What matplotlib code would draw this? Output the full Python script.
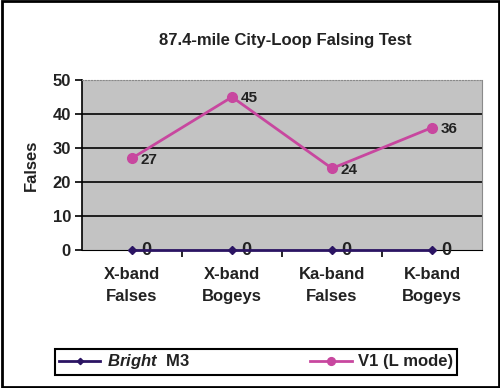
import matplotlib.pyplot as plt
from matplotlib.patches import Rectangle

plt.rcParams['font.family'] = ['Liberation Sans', 'DejaVu Sans']
plt.rcParams['mathtext.fontset'] = 'custom'
plt.rcParams['mathtext.bfit'] = 'Liberation Sans:bold:italic'

categories = ['X-band\nFalses', 'X-band\nBogeys', 'Ka-band\nFalses', 'K-band\nBogeys']
m3 = [0, 0, 0, 0]
v1 = [27, 45, 24, 36]
yticks = [0, 10, 20, 30, 40, 50]

txt = '#222222'
magenta = '#c8479f'
navy = '#2b1463'

fig = plt.figure(figsize=(5, 3.88), dpi=100)
ax = fig.add_axes([82/500, 1-250/388, 400/500, 170/388])
ax.set_facecolor('#c3c3c3')

x = list(range(len(categories)))
ax.plot(x, v1, '-o', color=magenta, lw=2, ms=7, label='V1 (L mode)', zorder=4)
ax.plot(x, m3, '-D', color=navy, lw=2, ms=4, label=r'$\mathbfit{Bright}$  M3', zorder=5, clip_on=False)

for i, v in enumerate(v1):
    ax.annotate(str(v), (i, v), xytext=(6, -1), textcoords='offset points',
                ha='left', va='center', fontsize=11, fontweight='bold', color=txt)
for i, v in enumerate(m3):
    ax.annotate(str(v), (i, v), xytext=(7, 0), textcoords='offset points',
                ha='left', va='center', fontsize=13, fontweight='bold', color=txt,
                annotation_clip=False)

ax.set_xlim(-0.5, 3.5)
ax.set_ylim(0, 50)
ax.set_yticks(yticks)
ax.set_yticklabels([str(t) for t in yticks], fontsize=12, fontweight='bold', color=txt)
ax.set_xticks(x)
ax.set_xticklabels(categories, fontsize=12, fontweight='bold', color=txt, linespacing=1.6)
ax.tick_params(axis='x', length=0, pad=12)
ax.set_xticks([0.5, 1.5, 2.5], minor=True)
ax.tick_params(axis='x', which='minor', length=5, width=1.2, direction='out')
ax.tick_params(axis='y', length=5, width=1.2, direction='out', pad=3)

for t in [10, 20, 30, 40]:
    ax.axhline(t, color='#111111', lw=1.3, zorder=1)

ax.spines['left'].set_color('black')
ax.spines['left'].set_linewidth(1.2)
ax.spines['bottom'].set_color('black')
ax.spines['right'].set_color('#8a8a8a')
ax.spines['top'].set_color('#8a8a8a')
ax.spines['top'].set_linestyle(':')

ax.set_ylabel('Falses', fontsize=12, fontweight='bold', color=txt, labelpad=10)
fig.text(0.57, 1-40/388, '87.4-mile City-Loop Falsing Test', ha='center', va='center',
         fontsize=12, fontweight='bold', color=txt)

h, l = ax.get_legend_handles_labels()
leg = fig.legend(h[::-1], l[::-1], ncol=2, mode='expand', loc='lower left',
                 bbox_to_anchor=(47/500, 1-383/388, 418/500, 26/388),
                 fancybox=False, edgecolor='black', framealpha=1, fontsize=12,
                 handlelength=2.5, borderpad=0.2, handletextpad=0.4, markerscale=0.8)
leg.get_frame().set_linewidth(1.5)
for t in leg.get_texts():
    t.set_fontweight('bold')
    t.set_color(txt)

fig.patches.append(Rectangle((0.003, 0.003), 0.994, 0.994, fill=False, edgecolor='black',
                             lw=2, transform=fig.transFigure, figure=fig))

fig.savefig('out.png', dpi=100)
